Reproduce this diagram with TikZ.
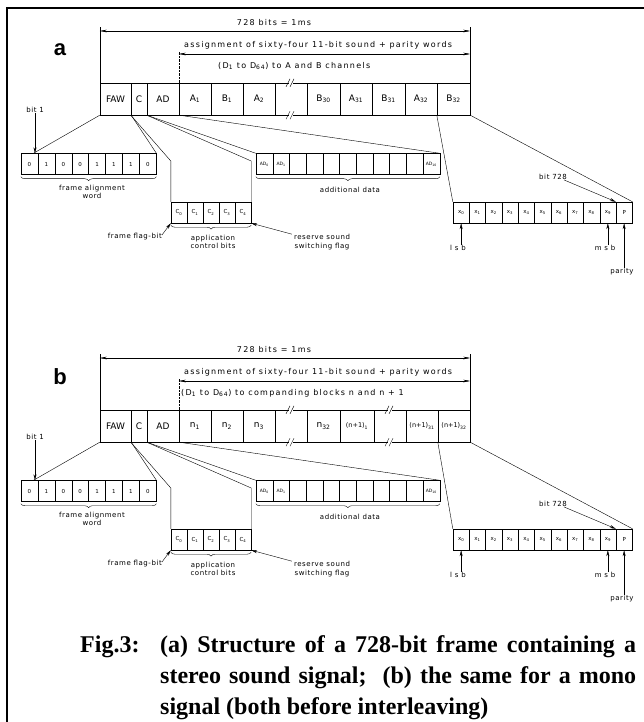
\documentclass[tikz,border=0pt]{standalone}
\usepackage{fontspec}
\setmainfont{Liberation Serif}
\setsansfont{DejaVu Sans}
\newfontfamily\panelfont{Liberation Sans}
\newfontfamily\draftfont[LetterSpace=16]{DejaVu Sans}
\newfontfamily\labelfont[LetterSpace=8]{DejaVu Sans}
\usetikzlibrary{arrows.meta,decorations.pathreplacing}

\tikzset{
  lbl/.style={font=\labelfont\fontsize{7}{8.5}\selectfont, inner sep=0pt, align=center},
  dimtext/.style={font=\draftfont\fontsize{8}{9}\selectfont, inner sep=0pt},
  bigcell/.style={draw, minimum height=32pt, inner sep=0pt, font=\sffamily\fontsize{9}{10}\selectfont},
  gapcell/.style={minimum width=32pt, minimum height=32pt, inner sep=0pt},
  bitcell/.style={draw, minimum height=21pt, inner sep=0pt, font=\sffamily\fontsize{5.5}{6}\selectfont},
  dim/.style={{Stealth[length=7pt,width=2.6pt]}-{Stealth[length=7pt,width=2.6pt]}},
  pointer/.style={-{Stealth[length=6pt,width=3pt]}},
  ubrace/.style={decorate, decoration={brace, mirror, amplitude=4pt}},
  panel/.style={font=\panelfont\bfseries\fontsize{22}{22}\selectfont, inner sep=0pt},
  caption/.style={font=\bfseries\fontsize{24}{28}\selectfont, inner sep=0pt, anchor=base west}
}

% break mark on a gap in the frame
\newcommand{\gapmark}[1]{%
  \draw (#1.north west) -- ([xshift=-2pt]#1.north) ([xshift=2pt]#1.north) -- (#1.north east);
  \draw (#1.south west) -- ([xshift=-2pt]#1.south) ([xshift=2pt]#1.south) -- (#1.south east);
  \draw ([xshift=-5pt,yshift=-4pt]#1.north) -- ([xshift=-1pt,yshift=4pt]#1.north)
        ([xshift=-1pt,yshift=-4pt]#1.north) -- ([xshift=3pt,yshift=4pt]#1.north);
  \draw ([xshift=-5pt,yshift=-4pt]#1.south) -- ([xshift=-1pt,yshift=4pt]#1.south)
        ([xshift=-1pt,yshift=-4pt]#1.south) -- ([xshift=3pt,yshift=4pt]#1.south);
}

% everything below and above the frame, #1 = prefix, #2 = position of lower text, #3 = lower text
\newcommand{\panelbody}[3]{%
  % dimension lines
  \coordinate (#1d1l) at (#1faw.north west |- 0,31);
  \coordinate (#1d1r) at (#1last.north east |- 0,31);
  \coordinate (#1d2l) at (#1w1.north west |- 0,54);
  \coordinate (#1d2r) at (#1last.north east |- 0,54);
  \draw (#1faw.north west) -- ([yshift=4pt]#1d1l);
  \draw (#1last.north east) -- ([yshift=4pt]#1d1r);
  \draw[densely dotted] (#1w1.north west) -- ([yshift=3pt]#1d2l);
  \draw[dim] (#1d1l) -- (#1d1r);
  \draw[dim] (#1d2l) -- (#1d2r);
  \node[dimtext] (#1t1) at (274,23) {728 bits = 1ms};
  \node[dimtext, anchor=west] (#1t2) at (184,45) {assignment of sixty-four 11-bit sound + parity words};
  \node[dimtext, anchor=west] (#1t3) at (#2) {#3};
  % frame alignment word
  \foreach \v [count=\i] in {0,1,0,0,1,1,1,0}
    \node[bitcell, minimum width=16.9pt] (#1f\i) at (12.55+16.9*\i,164) {\v};
  \draw[ubrace] ([yshift=-2pt]#1f1.south west) -- ([yshift=-2pt]#1f8.south east);
  \node[lbl] (#1fawl) at (92,192) {frame alignment\\word};
  \coordinate (#1b1) at ([xshift=4pt]#1f1.north);
  \node[lbl] (#1bit1) at (35,110) {bit 1};
  \draw[pointer] (#1bit1.south) -- (#1bit1.south |- #1b1);
  \draw (#1faw.south west) -- (#1b1);
  \draw (#1faw.south east) -- (#1f8.north east);
  % additional data
  \foreach \i in {1,...,11}
    \node[bitcell, minimum width=16.7pt] (#1ad\i) at (247.65+16.7*\i,164) {};
  \node[font=\sffamily\fontsize{4.5}{5}\selectfont] at (#1ad1) {AD\textsubscript{0}};
  \node[font=\sffamily\fontsize{4.5}{5}\selectfont] at (#1ad2) {AD\textsubscript{1}};
  \node[font=\sffamily\fontsize{4.5}{5}\selectfont] at (#1ad11) {AD\textsubscript{10}};
  \draw[ubrace] ([yshift=-2pt]#1ad1.south west) -- ([yshift=-2pt]#1ad11.south east);
  \node[lbl] (#1adl) at (350,190) {additional data};
  \draw (#1ad.south west) -- (#1ad1.north west);
  \draw (#1ad.south east) -- (#1ad11.north east);
  % application control bits
  \foreach \i in {0,...,4}
    \node[bitcell, minimum width=16pt] (#1c\i) at (179+16*\i,212.5) {C\textsubscript{\i}};
  \draw[ubrace] ([yshift=-2pt]#1c0.south west) -- ([yshift=-2pt]#1c4.south east);
  \node[lbl] (#1acb) at (213,242) {application\\control bits};
  \draw (#1c.south west) -- (#1c0.north west |- 0,161) -- (#1c0.north west);
  \draw (#1ad.south west) -- (#1c4.north east |- 0,161) -- (#1c4.north east);
  \node[lbl, anchor=east] (#1flag) at (162,237) {frame flag-bit};
  \draw[pointer] ([yshift=2pt]#1flag.east) -- (#1c0.south west);
  \node[lbl] (#1rsv) at (322,242) {reserve sound\\switching flag};
  \draw[pointer] ([xshift=-2pt]#1rsv.north west) -- (#1c4.south east);
  % sound + parity word
  \foreach \i in {0,...,9}
    \node[bitcell, minimum width=16.3pt] (#1x\i) at (461.15+16.3*\i,212.5) {x\textsubscript{\i}};
  \node[bitcell, minimum width=16.3pt] (#1xp) at (624.15,212.5) {P};
  \draw (#1last.south west) -- (#1x0.north west);
  \draw (#1last.south east) -- (#1xp.north east);
  \node[lbl] (#1b728) at (553,177) {bit 728};
  \draw[pointer] ([xshift=-3pt]#1b728.south east) -- (#1xp.north west);
  \node[lbl] (#1lsb) at (458,248) {l s b};
  \draw[pointer] (#1lsb.north -| #1x0.south) -- (#1x0.south);
  \node[lbl] (#1msb) at (605,248) {m s b};
  \draw[pointer] (#1msb.north -| #1x9.south) -- (#1x9.south);
  \node[lbl] (#1par) at (622,272) {parity};
  \draw[pointer] (#1par.north -| #1xp.south) -- (#1xp.south);
}

\begin{document}
\begin{tikzpicture}[x=1pt,y=-1pt]
\useasboundingbox (0,0) rectangle (644,722);
\draw[line width=1.2pt] (7,722) -- (7,8) -- (644,8);

% (a) stereo
\node[panel] (alabel) at (60,50) {a};
\foreach \xl/\w/\t/\n in {100/31/FAW/faw, 131/16/C/c, 147/32/AD/ad,
    179/32/A\textsubscript{1}/w1, 211/32/B\textsubscript{1}/w2, 243/32/A\textsubscript{2}/w3,
    307/33/B\textsubscript{30}/w4, 340/32/A\textsubscript{31}/w5, 372/33/B\textsubscript{31}/w6,
    405/32/A\textsubscript{32}/w7, 437/33/B\textsubscript{32}/last}
  \node[bigcell, minimum width=\w pt] (a\n) at (\xl+\w/2,99) {\t};
\node[gapcell] (agap) at (291,99) {};
\gapmark{agap}
\panelbody{a}{218,66}{(D\textsubscript{1} to D\textsubscript{64}) to A and B channels}

% (b) mono
\begin{scope}[shift={(0,327)}]
\node[panel] (blabel) at (60,50) {b};
\foreach \xl/\w/\t/\n in {100/31/FAW/faw, 131/16/C/c, 147/32/AD/ad,
    179/32/n\textsubscript{1}/w1, 211/32/n\textsubscript{2}/w2, 243/32/n\textsubscript{3}/w3,
    307/33/n\textsubscript{32}/w4, 340/34/{\fontsize{6.5}{7}\selectfont(n+1)\textsubscript{1}}/w5,
    406/32/{\fontsize{6.5}{7}\selectfont(n+1)\textsubscript{31}}/w6,
    438/32/{\fontsize{6.5}{7}\selectfont(n+1)\textsubscript{32}}/last}
  \node[bigcell, minimum width=\w pt] (b\n) at (\xl+\w/2,99) {\t};
\node[gapcell] (bgap1) at (291,99) {};
\node[gapcell] (bgap2) at (390,99) {};
\gapmark{bgap1}
\gapmark{bgap2}
\panelbody{b}{181,66}{(D\textsubscript{1} to D\textsubscript{64}) to companding blocks n and n + 1}
\end{scope}

% caption
\node[caption] (figno) at (80,652) {Fig.3:};
\node[caption] (cap1) at (160,652) {\makebox[476pt][s]{(a) Structure of a 728-bit frame containing a}};
\node[caption] (cap2) at (160,683) {\makebox[476pt][s]{stereo sound signal;\ \ (b) the same for a mono}};
\node[caption] (cap3) at (160,714) {signal (both before interleaving)};
\end{tikzpicture}
\end{document}
